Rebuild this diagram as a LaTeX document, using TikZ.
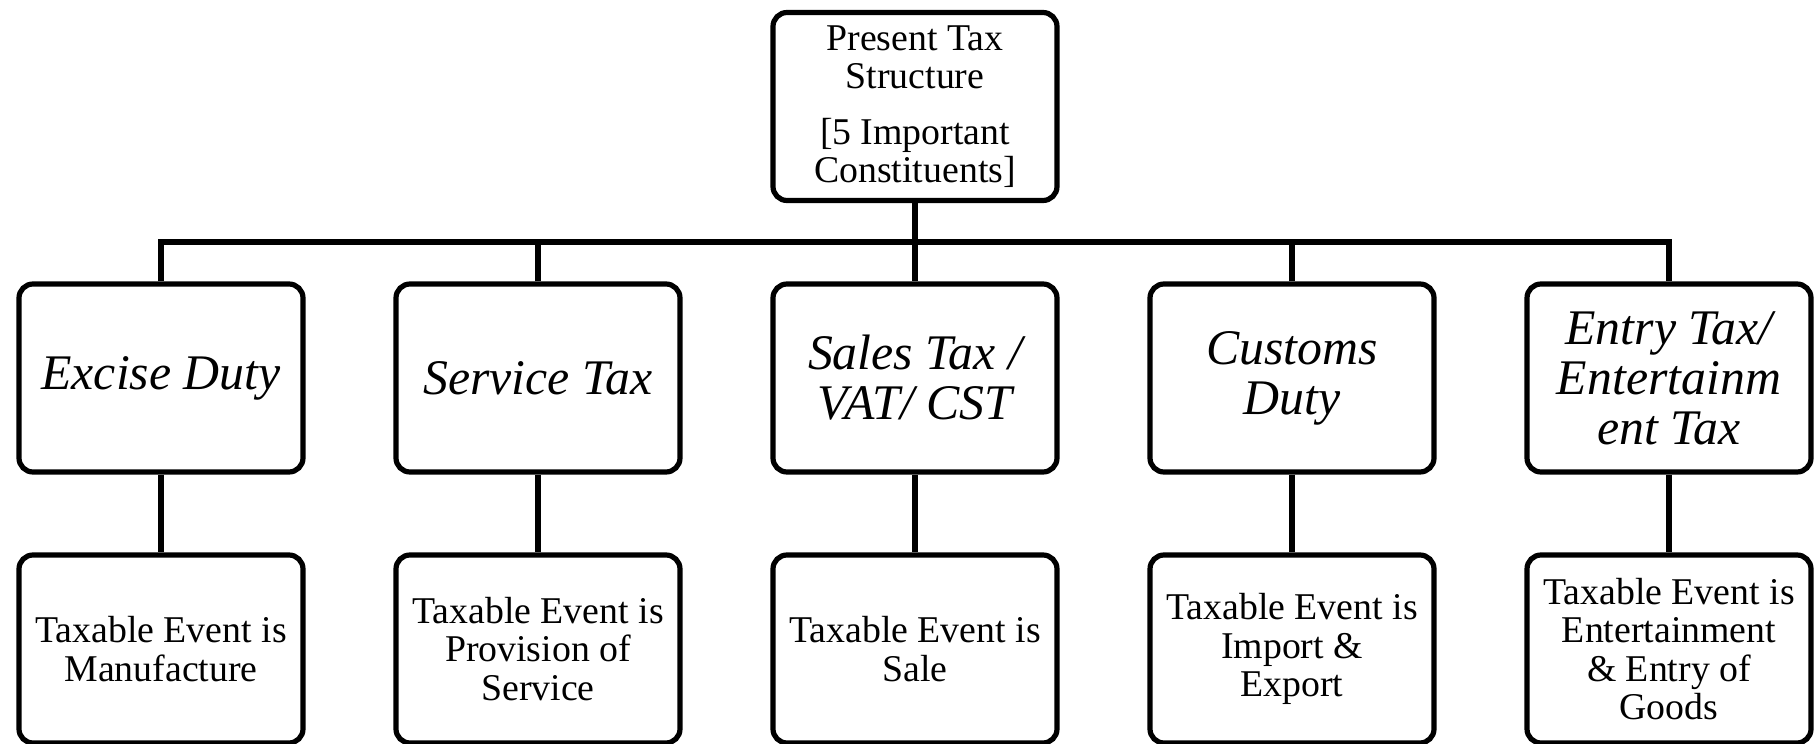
\documentclass[tikz,border=0pt]{standalone}
\usepackage{fontspec}
\setmainfont{Liberation Serif}
\begin{document}
\begin{tikzpicture}[x=0.5pt,y=-0.5pt,
  box/.style={draw=black, line width=2.6pt, rounded corners=7pt, fill=white,
    minimum width=142pt, minimum height=94pt, inner sep=0pt, align=center},
  small/.style={font=\fontsize{18.9pt}{19.2pt}\selectfont},
  big/.style={font=\fontsize{24.9pt}{25pt}\selectfont\itshape},
  conn/.style={draw=black, line width=2.6pt}]
\useasboundingbox (0,0) rectangle (1816,744);
\node[box,small] (root) at (915,106.5) {Present Tax\\Structure\\[8.5pt]{[}5 Important\\Constituents]};
\coordinate (bus) at (915,242);
\node[box,big] (a1) at (161,378) {Excise Duty};
\node[box,big] (a2) at (538,378) {Service Tax};
\node[box,big] (a3) at (915,378) {Sales Tax /\\VAT/ CST};
\node[box,big] (a4) at (1292,378) {Customs\\Duty};
\node[box,big] (a5) at (1669,378) {Entry Tax/\\Entertainm\\ent Tax};
\node[box,small] (b1) at (161,649) {Taxable Event is\\Manufacture};
\node[box,small] (b2) at (538,649) {Taxable Event is\\Provision of\\Service};
\node[box,small] (b3) at (915,649) {Taxable Event is\\Sale};
\node[box,small] (b4) at (1292,649) {Taxable Event is\\Import \&\\Export};
\node[box,small] (b5) at (1669,649) {Taxable Event is\\Entertainment\\\& Entry of\\Goods};
\draw[conn] (root.south) -- (bus);
\draw[conn] (a1.north) -- (a1.north |- bus) -- (a5.north |- bus) -- (a5.north);
\draw[conn] (a2.north) -- (a2.north |- bus);
\draw[conn] (bus) -- (a3.north);
\draw[conn] (a4.north) -- (a4.north |- bus);
\draw[conn] (a1) -- (b1);
\draw[conn] (a2) -- (b2);
\draw[conn] (a3) -- (b3);
\draw[conn] (a4) -- (b4);
\draw[conn] (a5) -- (b5);
\end{tikzpicture}
\end{document}
